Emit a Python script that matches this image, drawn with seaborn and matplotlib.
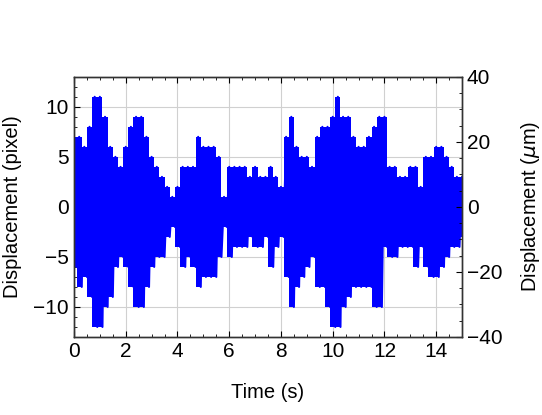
import numpy as np
import pandas as pd
import matplotlib
matplotlib.use("Agg")
import matplotlib.pyplot as plt
from matplotlib.ticker import MultipleLocator
import seaborn as sns

# envelope of the displacement signal (pixel), read every 0.2 s from 0 to 15 s
time_s = [round(0.2 * i, 1) for i in range(76)]
upper_px = [7, 7, 6, 8, 11, 11, 9, 6, 5, 4,
            6, 8, 9, 9, 7, 5, 4, 3, 2, 1,
            2, 4, 4, 4, 7, 6, 6, 6, 5, 1,
            4, 4, 4, 4, 3, 4, 3, 3, 4, 3,
            2, 7, 9, 6, 5, 5, 4, 7, 8, 8,
            9, 11, 9, 9, 7, 6, 6, 7, 8, 9,
            9, 4, 4, 3, 3, 4, 4, 2, 5, 5,
            6, 6, 5, 4, 3, 3]
lower_px = [-6, -8, -7, -9, -12, -12, -10, -9, -6, -5,
            -6, -8, -10, -10, -8, -6, -5, -5, -3, -2,
            -4, -6, -5, -6, -8, -7, -7, -7, -5, -2,
            -5, -4, -4, -4, -3, -4, -4, -3, -6, -4,
            -3, -7, -10, -8, -7, -6, -5, -8, -8, -10,
            -12, -12, -10, -9, -8, -8, -8, -8, -10, -10,
            -4, -5, -5, -4, -4, -4, -6, -4, -6, -7,
            -7, -6, -5, -4, -4, -3]

px_to_um = 40 / 13

sns.set_style("ticks", {"xtick.direction": "in", "ytick.direction": "in"})
plt.rcParams.update({
    "xtick.labelsize": 15,
    "ytick.labelsize": 15,
    "axes.labelsize": 14.5,
    "text.color": "black",
    "axes.labelcolor": "black",
    "xtick.color": "black",
    "ytick.color": "black",
})
plt.rcParams["font.family"] = ["Liberation Sans", "DejaVu Sans"]

# oscillation: alternate between the upper and lower peaks
t_sig, d_sig = [], []
for t, u, l in zip(time_s, upper_px, lower_px):
    t_sig += [t, t + 0.1]
    d_sig += [u, l]
df = pd.DataFrame({"Time": t_sig, "Disp": d_sig})
df = df[df["Time"] <= 15]

fig = plt.figure(figsize=(5.42, 4.15), dpi=100)
ax = fig.add_axes([0.1365, 0.188, 0.716, 0.627])

ax.fill_between(time_s, lower_px, upper_px, step="mid", color="#0000ff", lw=0)
sns.lineplot(data=df, x="Time", y="Disp", color="#0000ff", lw=1.5, ax=ax)

ax.set_xlim(0, 15)
ax.set_ylim(-13, 13)
ax.xaxis.set_major_locator(MultipleLocator(2))
ax.xaxis.set_minor_locator(MultipleLocator(0.5))
ax.yaxis.set_major_locator(MultipleLocator(5))
ax.yaxis.set_minor_locator(MultipleLocator(1))
ax.tick_params(which="both", direction="in", top=True, right=False)
ax.tick_params(which="major", length=4)
ax.tick_params(which="minor", length=2)
ax.grid(True, which="major", color="#d0d0d0", lw=0.8)
ax.set_axisbelow(True)
ax.set_yticks([-10, -5, 0, 5, 10])
ax.set_yticklabels(["\u221210", "\u22125", "0", "5", "10"])
ax.set_xlabel("Time (s)", labelpad=16)
ax.set_ylabel("Displacement (pixel)", labelpad=8)

ax2 = ax.twinx()
ax2.set_ylim(-13 * px_to_um, 13 * px_to_um)
ax2.yaxis.set_major_locator(MultipleLocator(20))
ax2.yaxis.set_minor_locator(MultipleLocator(5))
ax2.tick_params(which="both", direction="in")
ax2.tick_params(which="major", length=4)
ax2.tick_params(which="minor", length=2)
ax2.set_yticks([-40, -20, 0, 20, 40])
ax2.set_yticklabels(["\u221240", "\u221220", "0", "20", "40"])
ax2.set_ylabel("Displacement ($\\mu$m)", labelpad=12)

for a in (ax, ax2):
    for s in a.spines.values():
        s.set_color("#333333")
        s.set_linewidth(1.0)

fig.savefig("out.png", dpi=100)
